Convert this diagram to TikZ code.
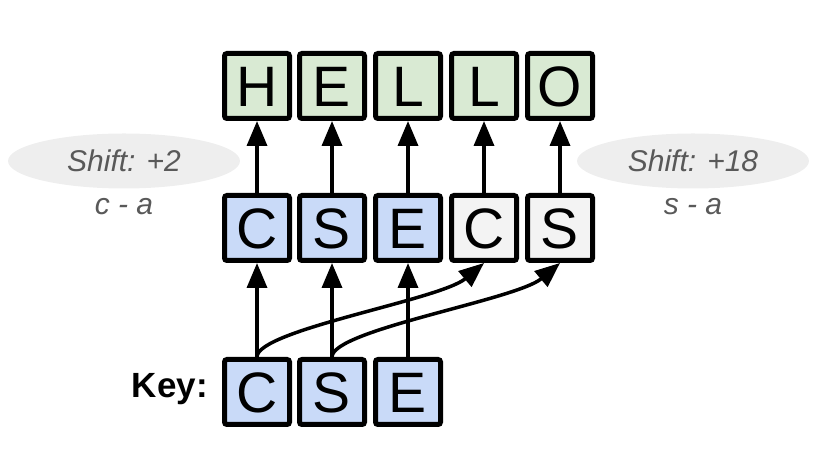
\documentclass[tikz,border=0pt]{standalone}
\usepackage{fontspec}
\setmainfont{Liberation Sans}
\usetikzlibrary{arrows.meta,shapes.geometric}
\definecolor{boxgreen}{HTML}{D9EAD3}
\definecolor{boxblue}{HTML}{C9DAF8}
\definecolor{boxgray}{HTML}{F3F3F3}
\definecolor{ellgray}{HTML}{EEEEEE}
\definecolor{txtgray}{HTML}{595959}
\tikzset{
  letterbox/.style={draw=black, line width=5pt, rounded corners=2.5pt, minimum size=65pt,
    inner sep=0pt, font=\fontsize{57}{57}\selectfont, text height=41pt, text depth=0pt},
  gbox/.style={letterbox, fill=boxgreen},
  bbox/.style={letterbox, fill=boxblue},
  wbox/.style={letterbox, fill=boxgray},
  arr/.style={line width=3.5pt, -{Triangle[length=25pt,width=20pt]}},
  shiftell/.style={ellipse, fill=ellgray, minimum width=232pt, minimum height=55pt, inner sep=0pt,
    text=txtgray, font=\fontsize{30}{30}\selectfont\itshape},
  difftxt/.style={text=txtgray, font=\fontsize{30}{30}\selectfont\itshape, inner sep=0pt}
}
\begin{document}
\begin{tikzpicture}[x=1pt,y=1pt]
\useasboundingbox (0,0) rectangle (824,476);
% top row
\node[gbox] (t1) at (257,390) {H};
\node[gbox] (t2) at (332,390) {E};
\node[gbox] (t3) at (408,390) {L};
\node[gbox] (t4) at (484,390) {L};
\node[gbox] (t5) at (560,390) {O};
% middle row
\node[bbox] (m1) at (257,248) {C};
\node[bbox] (m2) at (332,248) {S};
\node[bbox] (m3) at (408,248) {E};
\node[wbox] (m4) at (484,248) {C};
\node[wbox] (m5) at (560,248) {S};
% key row
\node[bbox] (k1) at (257,84) {C};
\node[bbox] (k2) at (332,84) {S};
\node[bbox] (k3) at (408,84) {E};
\node[anchor=base east, inner sep=0pt, font=\fontsize{35}{35}\selectfont\bfseries] (key) at (208,78) {Key:};
% ellipses
\node[shiftell] (e1) at (124,315) {Shift: +2};
\node[difftxt] (d1) at (124,269) {c - a};
\node[shiftell] (e2) at (693,315) {Shift: +18};
\node[difftxt] (d2) at (693,269) {s - a};
% arrows middle -> top
\foreach \i in {1,...,5} \draw[arr] (m\i.north) -- (t\i.south);
% arrows key -> middle
\draw[arr] (k1.north) -- (m1.south);
\draw[arr] (k2.north) -- (m2.south);
\draw[arr] (k3.north) -- (m3.south);
\draw[arr] (k1.north) .. controls (257,146) and (440,176) .. (m4.south);
\draw[arr] (k2.north) .. controls (332,146) and (516,176) .. (m5.south);
\end{tikzpicture}
\end{document}
